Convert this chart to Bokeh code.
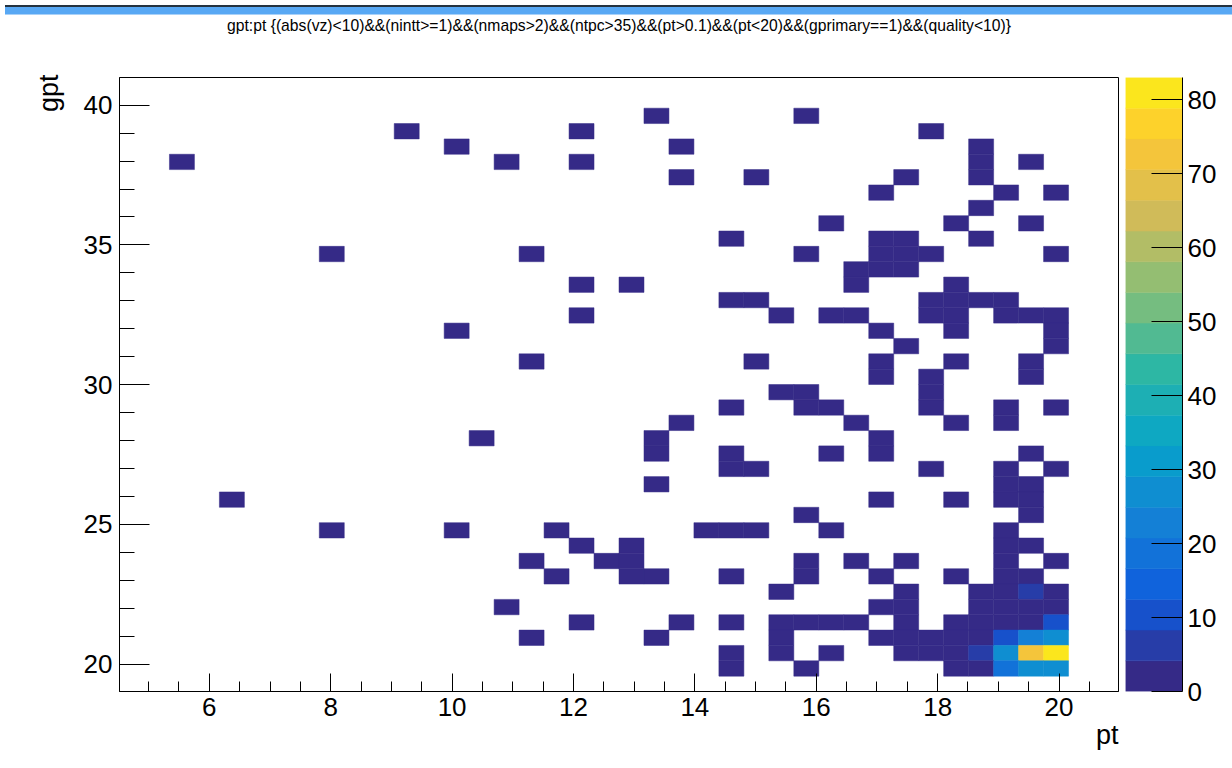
import numpy as np
from bokeh.plotting import figure
from bokeh.layouts import row, column
from bokeh.models import Range1d, FixedTicker, LinearColorMapper, Title, ColumnDataSource, Div
from bokeh.transform import transform
from bokeh.embed import file_html
from bokeh.resources import INLINE

# ---------------- data ----------------
TITLE = "gpt:pt {(abs(vz)<10)&&(nintt>=1)&&(nmaps>2)&&(ntpc>35)&&(pt>0.1)&&(pt<20)&&(gprimary==1)&&(quality<10)}"
X_LABEL = "pt"
Y_LABEL = "gpt"

# histogram definition (40 x 40 bins)
PT_MIN, PT_MAX = 4.52, 20.98
GPT_MIN, GPT_MAX = 19.02, 40.99
N_BINS = 40
Z_MAX = 83
N_LEVELS = 20

# filled cells: pt bin index, gpt bin index, entries
pt_bin = (
    [21, 27] +
    [11, 18, 32] +
    [13, 22, 34] +
    [2, 15, 18, 34, 36] +
    [22, 25, 31, 34] +
    [30, 35, 37] +
    [34] +
    [28, 33, 36] +
    [24, 30, 31, 34] +
    [8, 16, 27, 30, 31, 32, 37] +
    [29, 30, 31] +
    [18, 20, 29, 33] +
    [24, 25, 32, 33, 34, 35] +
    [18, 26, 28, 29, 32, 33, 35, 36, 37] +
    [13, 30, 33, 37] +
    [31, 37] +
    [16, 25, 30, 33, 36] +
    [30, 32, 36] +
    [26, 27, 32] +
    [24, 27, 28, 32, 35, 37] +
    [22, 29, 33, 35] +
    [14, 21, 30] +
    [21, 24, 28, 30, 36] +
    [24, 25, 32, 35, 37] +
    [21, 35, 36] +
    [4, 30, 33, 35, 36] +
    [27, 36] +
    [8, 13, 17, 23, 24, 25, 28, 35] +
    [18, 20, 35, 36] +
    [16, 19, 20, 27, 29, 31, 35, 37] +
    [17, 20, 21, 24, 27, 30, 33, 35, 36] +
    [26, 31, 34, 35, 36, 37] +
    [15, 30, 31, 34, 35, 36, 37] +
    [18, 22, 24, 26, 27, 28, 29, 31, 33, 34, 35, 36, 37] +
    [16, 21, 26, 30, 31, 32, 33, 34, 35, 36, 37] +
    [24, 26, 28, 31, 32, 33, 34, 35, 36, 37] +
    [24, 27, 33, 34, 35, 36, 37]
)
gpt_bin = (
    [37] * 2 + [36] * 3 + [35] * 3 + [34] * 5 + [33] * 4 + [32] * 3 + [31] * 1 +
    [30] * 3 + [29] * 4 + [28] * 7 + [27] * 3 + [26] * 4 + [25] * 6 + [24] * 9 +
    [23] * 4 + [22] * 2 + [21] * 5 + [20] * 3 + [19] * 3 + [18] * 6 + [17] * 4 +
    [16] * 3 + [15] * 5 + [14] * 5 + [13] * 3 + [12] * 5 + [11] * 2 + [10] * 8 +
    [9] * 4 + [8] * 8 + [7] * 9 + [6] * 6 + [5] * 7 + [4] * 13 + [3] * 11 +
    [2] * 10 + [1] * 7
)
counts = (
    [1] * 2 + [1] * 3 + [1] * 3 + [1] * 5 + [1] * 4 + [1] * 3 + [1] * 1 +
    [1] * 3 + [1] * 4 + [1] * 7 + [1] * 3 + [1] * 4 + [1] * 6 + [1] * 9 +
    [1] * 4 + [1] * 2 + [1] * 5 + [1] * 3 + [1] * 3 + [1] * 6 + [1] * 4 +
    [1] * 3 + [1] * 5 + [1] * 5 + [1] * 3 + [1] * 5 + [1] * 2 + [1] * 8 +
    [1] * 4 + [1] * 8 + [1] * 9 +
    [1, 2, 2, 2, 6, 2] +
    [1, 2, 2, 2, 3, 2, 3] +
    [1, 1, 1, 1, 2, 1, 2, 2, 2, 3, 3, 3, 11] +
    [1, 1, 1, 2, 2, 2, 3, 3, 11, 22, 28] +
    [1, 1, 1, 2, 2, 3, 6, 29, 72, 83] +
    [1, 1, 2, 3, 18, 28, 28]
)

x_ticks = [6, 8, 10, 12, 14, 16, 18, 20]
x_minor = [5, 5.5, 6.5, 7, 7.5, 8.5, 9, 9.5, 10.5, 11, 11.5, 12.5, 13, 13.5,
           14.5, 15, 15.5, 16.5, 17, 17.5, 18.5, 19, 19.5, 20.5]
y_ticks = [20, 25, 30, 35, 40]
y_minor = [20, 21, 22, 23, 24, 25, 26, 27, 28, 29, 30, 31, 32, 33, 34, 35, 36, 37, 38, 39, 40]
z_ticks = [0, 10, 20, 30, 40, 50, 60, 70, 80]

# ---------------- style: ROOT kBird palette, 20 contour levels ----------------
BIRD_R = [0.2082, 0.0592, 0.0780, 0.0232, 0.1802, 0.5301, 0.8186, 0.9956, 0.9764]
BIRD_G = [0.1664, 0.3599, 0.5041, 0.6419, 0.7178, 0.7492, 0.7328, 0.7862, 0.9832]
BIRD_B = [0.5293, 0.8684, 0.8385, 0.7914, 0.6425, 0.4662, 0.3499, 0.1968, 0.0539]
_st = np.linspace(0, 1, 9)


def bird(t):
    r = np.interp(t, _st, BIRD_R)
    g = np.interp(t, _st, BIRD_G)
    b = np.interp(t, _st, BIRD_B)
    return "#%02x%02x%02x" % (int(round(r * 255)), int(round(g * 255)), int(round(b * 255)))


palette = [bird(int(k * 255 / N_LEVELS) / 255.0) for k in range(N_LEVELS)]
mapper = LinearColorMapper(palette=palette, low=0, high=Z_MAX)

FONT = "Liberation Sans"
FS = "26px"
FS_LABEL = "27px"

# ---------------- bins -> rectangles ----------------
pw = (PT_MAX - PT_MIN) / N_BINS
gw = (GPT_MAX - GPT_MIN) / N_BINS
ix = np.array(pt_bin)
iy = np.array(gpt_bin)
src = ColumnDataSource(dict(
    left=PT_MIN + ix * pw, right=PT_MIN + (ix + 1) * pw,
    bottom=GPT_MIN + iy * gw, top=GPT_MIN + (iy + 1) * gw,
    count=counts,
))

p = figure(title=None, frame_width=999, frame_height=614,
           x_range=Range1d(PT_MIN, PT_MAX), y_range=Range1d(GPT_MIN, GPT_MAX),
           min_border_left=119, min_border_top=77, min_border_right=7, min_border_bottom=72,
           toolbar_location=None, output_backend="svg")
p.quad(left="left", right="right", bottom="bottom", top="top", source=src,
       fill_color=transform("count", mapper), line_color=transform("count", mapper),
       line_width=0.5)

p.xgrid.visible = False
p.ygrid.visible = False
p.outline_line_color = "black"
p.outline_line_width = 1
p.background_fill_color = "white"
p.border_fill_color = "white"

# blank spacer between frame and title, then the title itself (outermost)
p.add_layout(Title(text=" ", text_font=FONT, text_font_size="10px", standoff=31), "above")
p.add_layout(Title(text=TITLE, align="center", vertical_align="bottom", standoff=0,
                   text_font=FONT, text_font_size="15.7px", text_font_style="normal",
                   text_color="black"), "above")

for ax, tk, mn, tin, mnin, so in ((p.xaxis[0], x_ticks, x_minor, 18, 10, 6),
                                   (p.yaxis[0], y_ticks, y_minor, 30, 15, 7)):
    ax.ticker = FixedTicker(ticks=tk, minor_ticks=mn)
    ax.major_tick_in = tin
    ax.major_tick_out = 0
    ax.minor_tick_in = mnin
    ax.minor_tick_out = 0
    ax.axis_line_color = "black"
    ax.major_tick_line_color = "black"
    ax.minor_tick_line_color = "black"
    ax.major_label_text_font = FONT
    ax.major_label_text_font_size = FS
    ax.major_label_text_color = "black"
    ax.major_label_standoff = so

p.add_layout(Title(text=X_LABEL, align="right", vertical_align="top", standoff=2,
                   text_font=FONT, text_font_size=FS_LABEL,
                   text_font_style="normal", text_color="black"), "below")
p.add_layout(Title(text=Y_LABEL, align="right", offset=-3, standoff=34,
                   text_font=FONT, text_font_size=FS_LABEL,
                   text_font_style="normal", text_color="black"), "left")

# ---------------- colour palette axis ----------------
levels = [k * Z_MAX / N_LEVELS for k in range(N_LEVELS + 1)]
cb = figure(title=None, frame_width=57, frame_height=614,
            x_range=Range1d(0, 1), y_range=Range1d(0, Z_MAX),
            x_axis_location=None, y_axis_location="right",
            min_border_left=0, min_border_top=77, min_border_right=5, min_border_bottom=40,
            toolbar_location=None, output_backend="svg")
cb.quad(left=0, right=1, bottom=levels[:-1], top=levels[1:], fill_color=palette,
        line_color=palette, line_width=0.5)
cb.xgrid.visible = False
cb.ygrid.visible = False
cb.outline_line_color = None
cb.border_fill_color = "white"
zax = cb.yaxis[0]
zax.ticker = FixedTicker(ticks=z_ticks, minor_ticks=[])
zax.major_tick_in = 31
zax.major_tick_out = 0
zax.minor_tick_in = 0
zax.minor_tick_out = 0
zax.axis_line_color = "black"
zax.major_tick_line_color = "black"
zax.major_label_text_font = FONT
zax.major_label_text_font_size = FS
zax.major_label_text_color = "black"
zax.major_label_standoff = 5

# window-frame strips seen at the top and bottom edge of the reference
top_strip = Div(text="", width=1232, height=10,
                styles={"position": "fixed", "top": "0px", "left": "0px",
                        "background-color": "#58a8f4", "border-top": "2px solid #24323f",
                        "border-bottom": "1px solid #a9d1f8", "box-sizing": "border-box",
                        "z-index": "10"})
bottom_strip = Div(text="", width=1232, height=3,
                   styles={"position": "fixed", "top": "763px", "left": "0px",
                           "background-color": "#5aa9f2", "z-index": "10"})

layout = column(row(p, cb), top_strip, bottom_strip)
open("out.html", "w").write(file_html(layout, INLINE))
